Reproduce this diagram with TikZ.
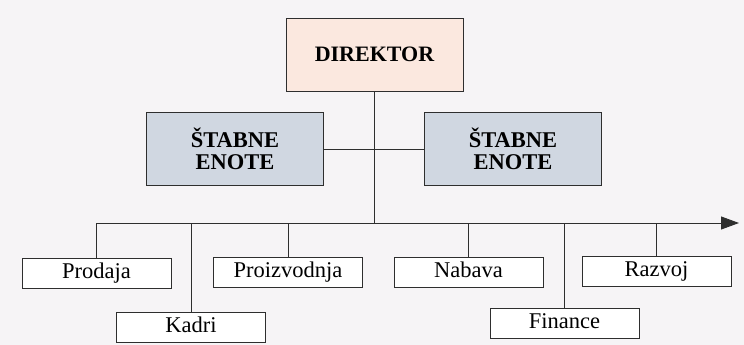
\documentclass[tikz,border=0pt]{standalone}
\usepackage{fontspec}
\setmainfont{Liberation Serif}
\usetikzlibrary{arrows.meta}
\definecolor{paper}{HTML}{F6F4F6}
\definecolor{headfill}{HTML}{FBE8DF}
\definecolor{stafffill}{HTML}{D0D7E1}
\definecolor{ink}{HTML}{2E2E2E}
\tikzset{
  headbox/.style={draw=ink, line width=0.9pt, fill=headfill, minimum width=177pt,
    minimum height=73pt, inner sep=0pt, font=\fontsize{22}{24}\selectfont\bfseries},
  staffbox/.style={draw=ink, line width=0.9pt, fill=stafffill, minimum width=177pt,
    minimum height=73pt, inner sep=0pt, align=center,
    font=\fontsize{22.5}{22}\selectfont\bfseries},
  unitbox/.style={draw=ink, line width=0.9pt, fill=white, minimum width=149pt,
    minimum height=30pt, inner sep=0pt, text height=15pt, text depth=5pt,
    font=\fontsize{22.5}{24}\selectfont},
  link/.style={draw=ink, line width=0.9pt},
}
\begin{document}
\begin{tikzpicture}[x=1pt, y=-1pt]
  \fill[paper] (0,0) rectangle (744,345);
  \useasboundingbox (0,0) rectangle (744,345);

  % management
  \node[headbox] (dir) at (374.5,54.5) {DIREKTOR};
  \node[staffbox] (st1) at (235,149) {ŠTABNE\\ENOTE};
  \node[staffbox] (st2) at (513,149) {ŠTABNE\\ENOTE};

  % departments
  \node[unitbox] (prodaja) at (96.5,273) {Prodaja};
  \node[unitbox] (kadri) at (191,327) {Kadri};
  \node[unitbox] (proizv) at (288,272) {Proizvodnja};
  \node[unitbox] (nabava) at (468.5,272) {Nabava};
  \node[unitbox] (finance) at (564.5,323.5) {Finance};
  \node[unitbox] (razvoj) at (656.5,271) {Razvoj};

  \coordinate (bus) at (374.5,223);
  \coordinate (busend) at (739,223);

  % connectors
  \draw[link] (dir.south) -- (bus);
  \draw[link] (st1.east) -- (st2.west);
  \draw[link, -{Triangle[length=18pt,width=13pt]}] (prodaja.north) |- (busend);
  \foreach \u in {kadri, proizv, nabava, finance, razvoj}
    \draw[link] (\u.north) -- (\u.north |- bus);
\end{tikzpicture}
\end{document}
